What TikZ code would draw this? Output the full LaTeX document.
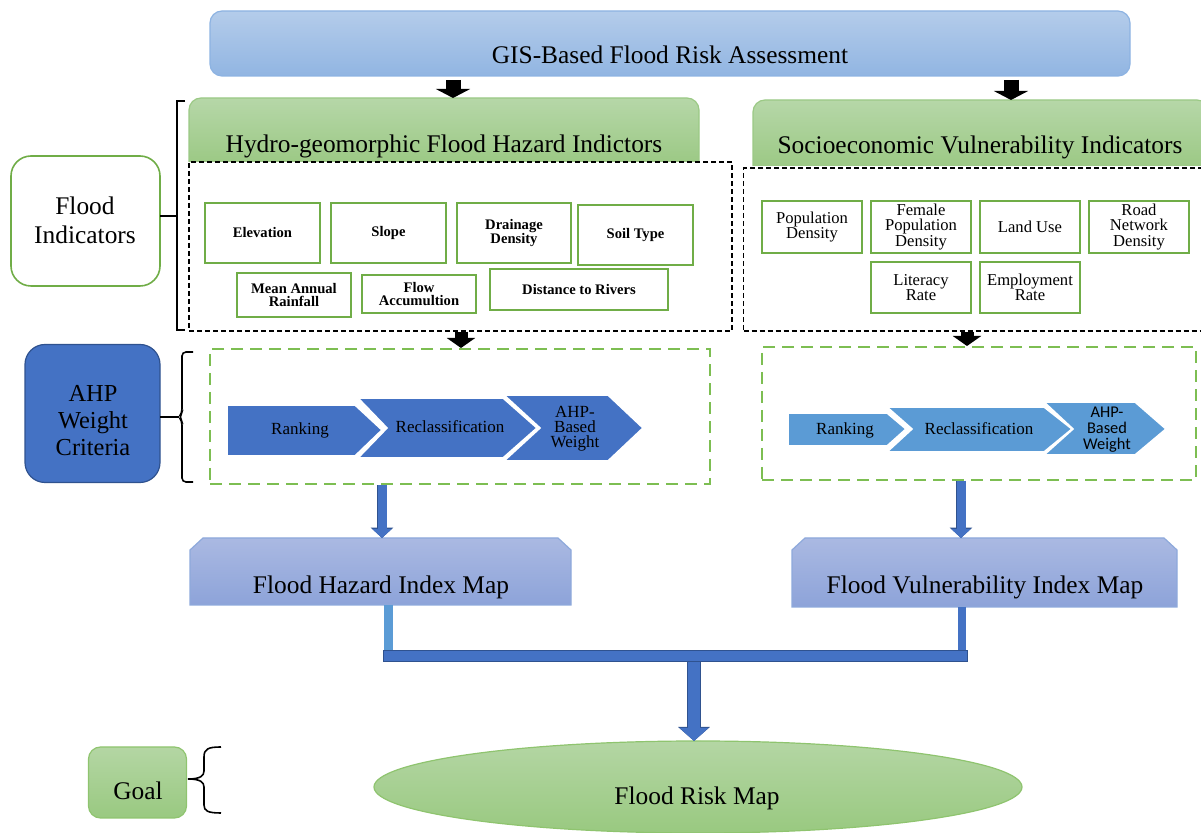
\documentclass[tikz,border=0pt]{standalone}
\usepackage{fontspec}
\setmainfont{Liberation Serif}
\newfontfamily\carl{Carlito}
\usetikzlibrary{arrows.meta,shapes.geometric}
\definecolor{gborder}{HTML}{70AD47}
\definecolor{hdrtop}{HTML}{B6D7A8}
\definecolor{hdrbot}{HTML}{9CC985}
\definecolor{hdrline}{HTML}{9BC985}
\definecolor{titletop}{HTML}{B4CCEA}
\definecolor{titlebot}{HTML}{91B5E2}
\definecolor{titleline}{HTML}{8DB3E2}
\definecolor{ahpblue}{HTML}{4472C4}
\definecolor{ahpline}{HTML}{2F528F}
\definecolor{lightblue}{HTML}{5B9BD5}
\definecolor{maptop}{HTML}{AAB9E2}
\definecolor{mapbot}{HTML}{8DA3D9}
\definecolor{mapline}{HTML}{8EA9DB}
\definecolor{gdash}{HTML}{7DBE52}
\definecolor{elltop}{HTML}{B4D6A4}
\definecolor{ellbot}{HTML}{99C980}
\definecolor{ellline}{HTML}{8FC46F}
\begin{document}
\begin{tikzpicture}[x=0.5pt,y=-0.5pt,
  big/.style={font=\fontsize{12.7}{15}\selectfont, inner sep=0pt, align=center},
  hzbox/.style={draw=gborder, line width=1pt, fill=white, inner sep=0pt, align=center, font=\bfseries\fontsize{7.3}{6.7}\selectfont},
  vlbox/.style={draw=gborder, line width=1pt, fill=white, inner sep=0pt, align=center, font=\fontsize{8.3}{7.8}\selectfont},
  blkdash/.style={draw=black, line width=0.7pt, dash pattern=on 2.5pt off 1.5pt, inner sep=0pt},
  grndash/.style={draw=gdash, line width=1pt, dash pattern=on 6pt off 3.5pt, inner sep=0pt},
  chevL/.style={fill=ahpblue, draw=white, line width=0.8pt},
  chevR/.style={fill=lightblue, draw=white, line width=0.8pt},
  chtxt/.style={font=\fontsize{8.5}{7.5}\selectfont, inner sep=0pt, align=center},
  brk/.style={draw=black, line width=0.8pt},
  ghost/.style={inner sep=0pt, outer sep=0pt},
  hdr/.style={top color=hdrtop, bottom color=hdrbot, draw=hdrline, line width=0.6pt},
  mapshape/.style={top color=maptop, bottom color=mapbot, draw=mapline, line width=0.6pt},
  blkarr/.style={draw=black, line width=7.5pt, -{Triangle[width=17pt,length=4.5pt]}},
  blkarrs/.style={draw=black, line width=6.5pt, -{Triangle[width=14pt,length=5pt]}},
  bluearr/.style={draw=ahpblue, line width=4.5pt, -{Triangle[width=9.5pt,length=4.5pt]},
     preaction={draw=ahpline, line width=5.3pt, -{Triangle[width=11pt,length=5.2pt]}}},
  bigbluearr/.style={draw=ahpblue, line width=6pt, -{Triangle[width=14pt,length=6.5pt]},
     preaction={draw=ahpline, line width=6.8pt, -{Triangle[width=15.5pt,length=7pt]}}}
]
\useasboundingbox (0,0) rectangle (1201,833);
\clip (0,0) rectangle (1201,833);

% ---------- title ----------
\node[ghost, rounded corners=6pt, top color=titletop, bottom color=titlebot, draw=titleline, line width=0.6pt,
      minimum width=460pt, minimum height=32.5pt] (title) at (670,43.5) {};
\node[big, anchor=base] (titletxt) at (670,64) {GIS-Based Flood Risk Assessment};

% ---------- headers ----------
\node[ghost, minimum width=255pt, minimum height=32pt] (lhead) at (444,130) {};
\path[hdr] (lhead.south west) [rounded corners=6pt] -- (lhead.north west) -- (lhead.north east) -- (lhead.south east);
\node[big, anchor=base] (lheadtxt) at (444,153) {Hydro-geomorphic Flood Hazard Indictors};

\node[ghost, minimum width=228pt, minimum height=33pt] (rhead) at (981,133) {};
\path[hdr] (rhead.south west) [rounded corners=6pt] -- (rhead.north west) -- (rhead.north east) -- (rhead.south east);
\node[big, anchor=base] (rheadtxt) at (980,154) {Socioeconomic Vulnerability Indicators};

\draw[blkarr] ([yshift=-2pt]title.south -| 453,0) -- (lhead.north -| 453,0);
\draw[blkarr] ([yshift=-2pt]title.south -| 1011,0) -- (rhead.north -| 1011,0);

% ---------- dashed indicator boxes ----------
\node[blkdash, minimum width=271.5pt, minimum height=84.5pt] (ldash) at (460.5,246.5) {};
\node[blkdash, minimum width=234pt, minimum height=81.5pt] (rdash) at (977.5,249.5) {};

% hazard indicators
\node[hzbox, minimum width=57.5pt, minimum height=30pt] (elev) at (262.5,233) {Elevation};
\node[hzbox, minimum width=57.5pt, minimum height=30pt] (slope) at (388.5,233) {Slope};
\node[hzbox, minimum width=57pt, minimum height=30pt] (drain) at (514,233) {Drainage\\Density};
\node[hzbox, minimum width=57.5pt, minimum height=30pt] (soil) at (635.5,235) {Soil Type};
\node[hzbox, minimum width=57pt, minimum height=22pt] (rain) at (294,295) {Mean Annual\\Rainfall};
\node[hzbox, minimum width=57pt, minimum height=19pt] (flow) at (419,294) {Flow\\Accumultion};
\node[hzbox, minimum width=89pt, minimum height=20.5pt] (dist) at (579,289.5) {Distance to Rivers};

% vulnerability indicators
\node[vlbox, minimum width=50pt, minimum height=26pt] (pop) at (812,227) {Population\\Density};
\node[vlbox, minimum width=50pt, minimum height=26pt] (fem) at (921,227) {Female\\Population\\Density};
\node[vlbox, minimum width=50pt, minimum height=26pt] (land) at (1030,227) {Land Use};
\node[vlbox, minimum width=50pt, minimum height=26pt] (road) at (1139,227) {Road\\Network\\Density};
\node[vlbox, minimum width=50pt, minimum height=25.5pt] (lit) at (921,287.5) {Literacy\\Rate};
\node[vlbox, minimum width=50pt, minimum height=25.5pt] (emp) at (1030,287.5) {Employment\\Rate};

% ---------- Flood Indicators label ----------
\node[ghost, draw=gborder, line width=0.8pt, fill=white, rounded corners=10pt,
      minimum width=74.5pt, minimum height=65pt] (find) at (85.5,221) {};
\node[big, font=\fontsize{12.7}{14.5}\selectfont] (findtxt) at (85,220) {Flood\\Indicators};
\draw[brk] (185,101) -- (177,101) -- (177,330) -- (185,330);
\draw[brk] (find.east |- 0,216) -- (177,216);

% ---------- AHP row ----------
\node[ghost, draw=ahpline, line width=0.6pt, fill=ahpblue, rounded corners=10pt,
      minimum width=67.5pt, minimum height=69pt] (ahp) at (92.5,413.5) {};
\node[big, font=\fontsize{12.2}{13.5}\selectfont] (ahptxt) at (93,421) {AHP\\Weight\\Criteria};
\draw[brk, rounded corners=2pt] (193,352) -- (182,352) -- (182,413) -- (179,417) -- (182,421) -- (182,482) -- (193,482);
\draw[brk] (ahp.east |- 0,417) -- (179,417);

\node[grndash, minimum width=250pt, minimum height=67.5pt] (lgdash) at (460,416.5) {};
\node[grndash, minimum width=217pt, minimum height=66.5pt] (rgdash) at (979,413.5) {};

\draw[blkarrs] (ldash.south -| 461,0) -- (lgdash.north -| 461,0);
\draw[blkarrs] (rdash.south -| 967,0) -- (rgdash.north -| 967,0);

% left chevrons
\path[chevL] (227,405) -- (355,405) -- (382,430) -- (355,456) -- (227,456) -- cycle;
\path[chevL] (358,398) -- (503,398) -- (537,428) -- (503,458) -- (358,458) -- (387,428) -- cycle;
\path[chevL] (504,395) -- (608,395) -- (643,428) -- (608,461) -- (504,461) -- (540,428) -- cycle;
\node[chtxt, anchor=base] (lrank) at (300,435) {Ranking};
\node[chtxt, anchor=base] (lrecl) at (450,433) {Reclassification};
\node[chtxt] (lahpw) at (575,429) {AHP-\\Based\\Weight};

% right chevrons
\path[chevR] (788,413) -- (887,413) -- (906,429) -- (887,446) -- (788,446) -- cycle;
\path[chevR] (887,407) -- (1044,407) -- (1072,429) -- (1044,452) -- (887,452) -- (912,429) -- cycle;
\path[chevR] (1044,402) -- (1135,402) -- (1166,429) -- (1135,455) -- (1044,455) -- (1073,429) -- cycle;
\node[chtxt, anchor=base] (rrank) at (845,435) {Ranking};
\node[chtxt, anchor=base] (rrecl) at (979,435) {Reclassification};
\node[chtxt, font=\carl\fontsize{8.2}{7.9}\selectfont] (rahpw) at (1107,429.5) {AHP-\\Based\\Weight};

% ---------- index maps ----------
\node[ghost, minimum width=190.5pt, minimum height=33.5pt] (lmap) at (380.5,571.5) {};
\path[mapshape] (lmap.south west) -- ([yshift=-6pt]lmap.north west) -- ([xshift=6.5pt]lmap.north west)
  -- ([xshift=-6.5pt]lmap.north east) -- ([yshift=-6pt]lmap.north east) -- (lmap.south east) -- cycle;
\node[big, anchor=base] (lmaptxt) at (381,594) {Flood Hazard Index Map};

\node[ghost, minimum width=192.5pt, minimum height=34.5pt] (rmap) at (984.5,572.5) {};
\path[mapshape] (rmap.south west) -- ([yshift=-6pt]rmap.north west) -- ([xshift=6.5pt]rmap.north west)
  -- ([xshift=-6.5pt]rmap.north east) -- ([yshift=-6pt]rmap.north east) -- (rmap.south east) -- cycle;
\node[big, anchor=base] (rmaptxt) at (985,594) {Flood Vulnerability Index Map};

\draw[bluearr] (lgdash.south -| 382,0) -- (lmap.north -| 382,0);
\draw[bluearr] (rgdash.south -| 961,0) -- (rmap.north -| 961,0);

% ---------- merge ----------
\coordinate (jl) at (388,651);
\coordinate (jr) at (962,651);
\coordinate (jm) at (694,662);
\draw[lightblue, line width=4.5pt] (lmap.south -| jl) -- (jl);
\draw[ahpblue, line width=4pt] (rmap.south -| jr) -- (jr);
\filldraw[fill=ahpblue, draw=ahpline, line width=0.5pt] (383,651) rectangle (967,662);

% ---------- goal ----------
\node[ghost, ellipse, top color=elltop, bottom color=ellbot, draw=ellline, line width=0.6pt,
      minimum width=324pt, minimum height=46pt] (risk) at (698,787) {};
\node[big, anchor=base] (risktxt) at (697,805) {Flood Risk Map};
\draw[bigbluearr] (jm) -- (jm |- risk.north);

\node[ghost, rounded corners=6pt, top color=elltop, bottom color=ellbot, draw=ellline, line width=0.6pt,
      minimum width=49pt, minimum height=35.5pt] (goal) at (137.5,782.5) {};
\node[big, anchor=base] (goaltxt) at (138,800) {Goal};
\draw[brk] (221,747) .. controls (208,747) and (204,749) .. (204,757) -- (204,771)
  .. controls (204,776) and (200,779) .. (188,779)
  .. controls (200,779) and (204,782) .. (204,787) -- (204,805)
  .. controls (204,811) and (208,813) .. (221,813);
\end{tikzpicture}
\end{document}
